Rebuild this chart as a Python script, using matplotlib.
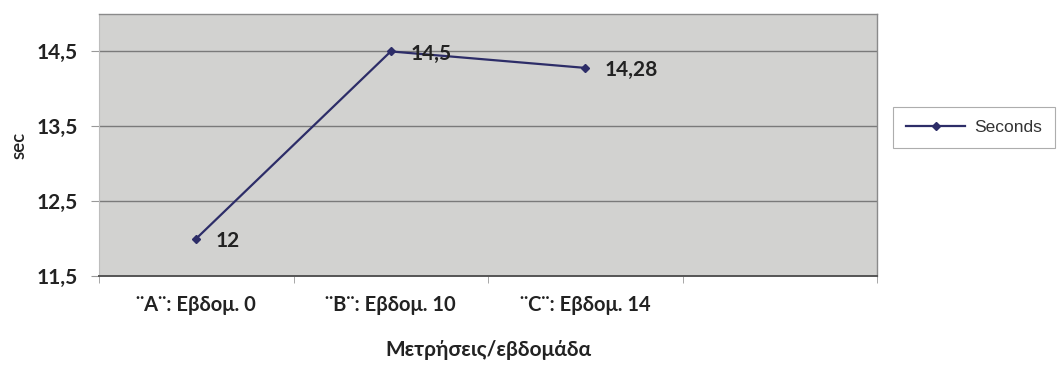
import matplotlib
matplotlib.use("Agg")
import matplotlib.pyplot as plt
from matplotlib.ticker import FixedLocator

categories = ["¨A¨: Εβδομ. 0", "¨B¨: Εβδομ. 10", "¨C¨: Εβδομ. 14", ""]
seconds = [12, 14.5, 14.28]
value_labels = ["12", "14,5", "14,28"]
yticks = [11.5, 12.5, 13.5, 14.5]
ytick_labels = ["11,5", "12,5", "13,5", "14,5"]
series_name = "Seconds"

W, H = 1058, 365
fig = plt.figure(figsize=(W / 100, H / 100), dpi=100)
fig.patch.set_facecolor("white")
ax = fig.add_axes([99 / W, 1 - 276 / H, (877 - 99) / W, (276 - 14) / H])
ax.set_facecolor("#d2d2d0")

line_color = "#2d2d68"
xs = list(range(len(seconds)))
ln, = ax.plot(xs, seconds, color=line_color, lw=1.6, marker="D", ms=4.5,
              mfc=line_color, mec=line_color, label=series_name, zorder=3)

bold = dict(family=["Lato", "DejaVu Sans"], weight="bold")
for x, y, t in zip(xs, seconds, value_labels):
    ax.annotate(t, (x, y), xytext=(14, -1.5), textcoords="offset points",
                ha="left", va="center", fontsize=15, color="#222222", **bold)

ax.set_xlim(-0.5, len(categories) - 0.5)
ax.set_ylim(11.5, 15.0)
ax.set_yticks(yticks)
ax.set_yticklabels(ytick_labels, fontsize=15, color="#222222", **bold)
ax.set_xticks(range(len(categories)))
ax.set_xticklabels(categories, fontsize=14.5, color="#222222", **bold)
ax.tick_params(axis="x", length=0, pad=14)
ax.xaxis.set_minor_locator(FixedLocator([i - 0.5 for i in range(len(categories) + 1)]))
ax.tick_params(axis="x", which="minor", length=5, color="#999999", direction="out")
ax.tick_params(axis="y", length=6, color="#999999", pad=9)

ax.grid(axis="y", color="#7a7a7a", lw=1.0)
ax.set_axisbelow(True)
for s in ["top", "right"]:
    ax.spines[s].set_color("#8a8a8a")
    ax.spines[s].set_linewidth(1.0)
ax.spines["left"].set_color("#bdbdbd")
ax.spines["bottom"].set_color("#555555")
ax.spines["bottom"].set_linewidth(1.4)

ax.set_ylabel("sec", fontsize=13.5, color="#222222", labelpad=7,
              family=["Lato", "DejaVu Sans"], weight="semibold")
ax.set_xlabel("Μετρήσεις/εβδομάδα", fontsize=15, color="#222222", labelpad=18, **bold)

leg = fig.legend(handles=[ln], loc="upper left", bbox_to_anchor=(893 / W, 1 - 107 / H),
                 bbox_transform=fig.transFigure, frameon=True, fancybox=False,
                 handlelength=3.4, borderpad=0.75, borderaxespad=0, handletextpad=0.5,
                 prop=dict(family="Liberation Sans", size=12.5))
leg.get_frame().set_edgecolor("#999999")
leg.get_frame().set_linewidth(0.8)
for t in leg.get_texts():
    t.set_color("#333333")

fig.savefig("out.png", dpi=100)
